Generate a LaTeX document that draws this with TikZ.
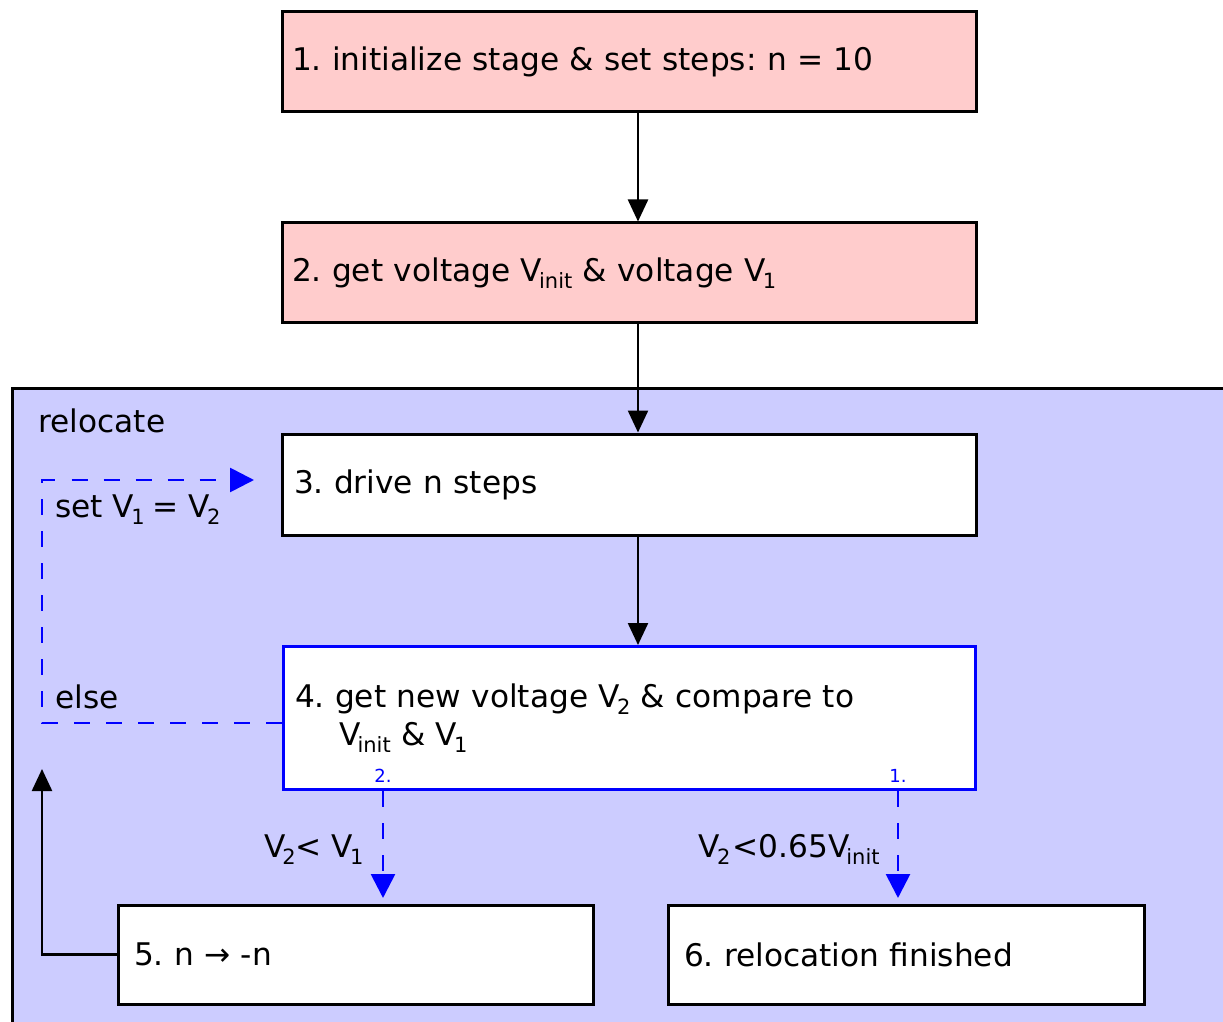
\documentclass[tikz,border=0pt]{standalone}
\usepackage{fontspec}
\setmainfont{DejaVu Sans}
\usetikzlibrary{arrows.meta}
\definecolor{flowInit}{HTML}{FFCCCC}
\definecolor{flowLoop}{HTML}{CCCCFF}
\definecolor{flowBlue}{HTML}{0000FF}
\newcommand{\flowfont}{\fontsize{15.6}{19}\selectfont\frenchspacing}
\newcommand{\sub}[1]{\kern-1.5pt\raisebox{-3.5pt}{\fontsize{10.5}{12}\selectfont #1}}
\tikzset{
  flowbox/.style={
    rectangle, draw=black, line width=1.5pt, fill=white,
    align=left, font=\flowfont, inner xsep=5pt, inner ysep=0pt
  },
  loopbox/.style={rectangle, draw=black, line width=1.5pt, fill=flowLoop},
  condlabel/.style={font=\flowfont, inner sep=0pt},
  branchlabel/.style={font=\fontsize{9}{10}\selectfont, text=flowBlue, inner sep=0pt},
  flowarrow/.style={-{Triangle[length=11pt,width=10pt]}, line width=1.2pt, draw=black},
  branchdash/.style={-{Triangle[length=12pt,width=12pt]}, line width=1.4pt,
    draw=flowBlue, dash pattern=on 8pt off 8pt}
}

\begin{document}
\begin{tikzpicture}[x=0.5pt,y=-0.5pt]
  \useasboundingbox (0,0) rectangle (1223,1022);
  \clip (0,0) rectangle (1223,1022);

  \node[loopbox, anchor=north west, minimum width=620pt, minimum height=330pt] (reloc) at (11,387) {};
  \node[condlabel, anchor=base west] (reloctxt) at (38,432) {relocate};

  \node[flowbox, fill=flowInit, text width=337pt, minimum height=50pt] (init) at (629,62)
    {1. initialize stage \& set steps: n = 10};
  \node[flowbox, fill=flowInit, text width=337pt, minimum height=50pt] (getv) at (629,273)
    {2. get voltage V\sub{init} \& voltage V\sub{1}};
  \node[flowbox, inner xsep=6pt, text width=335pt, minimum height=50.5pt] (drive) at (629,484.5)
    {3. drive n steps};
  \node[flowbox, inner xsep=6pt, draw=flowBlue, text width=334pt, minimum height=71.5pt] (comp) at (629,718)
    {4. get new voltage V\sub{2} \& compare to\\
     \phantom{4. }\kern2pt V\sub{init} \& V\sub{1}};
  \node[flowbox, inner xsep=8pt, text width=221.5pt, minimum height=49.5pt] (flip) at (355.5,954.5)
    {5. n → -n};
  \node[flowbox, inner xsep=8pt, text width=222pt, minimum height=49.5pt] (done) at (906,954.5)
    {6. relocation finished};

  \node[branchlabel, anchor=base] (brtwo) at (383,782) {2.};
  \node[branchlabel, anchor=base] (brone) at (898,782) {1.};

  \node[condlabel, anchor=base east] (lesser) at (364,857) {V\sub{2}< V\sub{1}};
  \node[condlabel, anchor=base east] (finish) at (880,857) {V\sub{2}\kern1pt<0.65V\sub{init}};
  \node[condlabel, anchor=base west] (setv) at (55,517) {set V\sub{1}\kern-1pt{} = V\sub{2}};
  \node[condlabel, anchor=base west] (elsetxt) at (55,708) {else};

  \coordinate (spine) at (638,0);
  \coordinate (backtip) at (42,769);
  \coordinate (loopturn) at (42,480);
  \coordinate (looptip) at (254,480);

  \draw[flowarrow] (init.south -| spine) -- (getv.north -| spine);
  \draw[flowarrow] (getv.south -| spine) -- (drive.north -| spine);
  \draw[flowarrow] (drive.south -| spine) -- (comp.north -| spine);
  \draw[flowarrow] (flip.west) -| (backtip);

  \draw[branchdash, shorten >=2.75pt] (brtwo |- comp.south) -- (brtwo |- flip.north);
  \draw[branchdash, shorten >=2.75pt] (brone |- comp.south) -- (brone |- done.north);
  \draw[branchdash] ([yshift=-2.5pt]comp.west) -| (loopturn) -- (looptip);
\end{tikzpicture}
\end{document}
